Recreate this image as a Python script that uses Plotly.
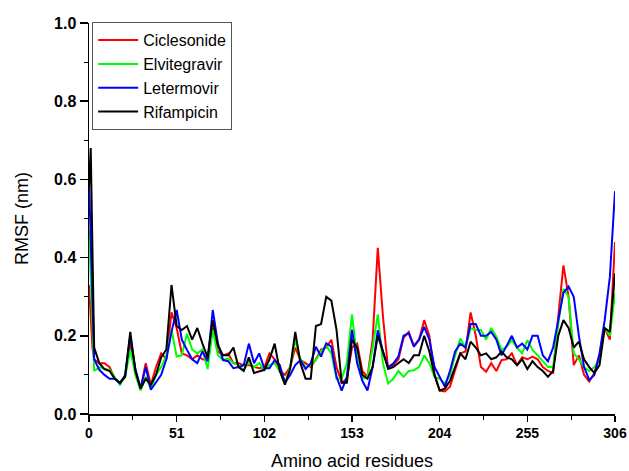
import plotly.graph_objects as go

residues = [0, 1, 2] + list(range(3, 307, 3))

ciclesonide = [0.33, 0.25, 0.17, 0.14, 0.13, 0.13, 0.12, 0.09, 0.08, 0.095,
               0.18, 0.11, 0.065, 0.13, 0.075, 0.12, 0.155, 0.14, 0.26, 0.22,
               0.155, 0.15, 0.14, 0.15, 0.14, 0.138, 0.22, 0.16, 0.15, 0.155,
               0.13, 0.13, 0.125, 0.125, 0.12, 0.117, 0.12, 0.155, 0.14, 0.11,
               0.10, 0.12, 0.17, 0.138, 0.13, 0.12, 0.14, 0.165, 0.17, 0.19,
               0.12, 0.08, 0.09, 0.17, 0.18, 0.11, 0.095, 0.19, 0.425, 0.25,
               0.115, 0.125, 0.14, 0.195, 0.21, 0.175, 0.19, 0.24, 0.2, 0.10,
               0.06, 0.058, 0.07, 0.11, 0.155, 0.16, 0.26, 0.2, 0.12, 0.108,
               0.13, 0.11, 0.138, 0.14, 0.155, 0.125, 0.145, 0.14, 0.147, 0.14,
               0.12, 0.11, 0.105, 0.25, 0.38, 0.30, 0.125, 0.15, 0.10, 0.083,
               0.105, 0.15, 0.22, 0.19, 0.44]

elvitegravir = [0.47, 0.35, 0.2, 0.11, 0.12, 0.115, 0.113, 0.095, 0.075, 0.095,
                0.165, 0.10, 0.06, 0.095, 0.065, 0.1, 0.12, 0.15, 0.215, 0.147,
                0.15, 0.205, 0.165, 0.155, 0.165, 0.115, 0.215, 0.15, 0.138, 0.142,
                0.13, 0.125, 0.112, 0.134, 0.12, 0.13, 0.112, 0.125, 0.13, 0.11,
                0.078, 0.12, 0.19, 0.14, 0.12, 0.125, 0.138, 0.16, 0.175, 0.155,
                0.09, 0.09, 0.13, 0.255, 0.14, 0.09, 0.095, 0.17, 0.255, 0.13,
                0.078, 0.09, 0.11, 0.095, 0.11, 0.112, 0.12, 0.15, 0.13, 0.095,
                0.09, 0.078, 0.1, 0.15, 0.193, 0.17, 0.22, 0.215, 0.215, 0.19,
                0.22, 0.198, 0.164, 0.172, 0.189, 0.17, 0.155, 0.189, 0.164, 0.15,
                0.135, 0.12, 0.12, 0.23, 0.32, 0.3, 0.155, 0.14, 0.12, 0.11,
                0.12, 0.138, 0.22, 0.2, 0.31]

letermovir = [0.6, 0.45, 0.25, 0.14, 0.113, 0.1, 0.09, 0.09, 0.078, 0.1,
              0.2, 0.115, 0.065, 0.12, 0.062, 0.08, 0.1, 0.14, 0.21, 0.266,
              0.19, 0.164, 0.14, 0.13, 0.16, 0.135, 0.266, 0.18, 0.138, 0.135,
              0.117, 0.12, 0.125, 0.18, 0.13, 0.155, 0.117, 0.117, 0.138, 0.125,
              0.08, 0.1, 0.125, 0.138, 0.115, 0.13, 0.172, 0.147, 0.181, 0.172,
              0.095, 0.06, 0.095, 0.215, 0.13, 0.085, 0.06, 0.12, 0.214, 0.16,
              0.12, 0.129, 0.147, 0.2, 0.206, 0.172, 0.19, 0.223, 0.19, 0.12,
              0.095, 0.07, 0.11, 0.16, 0.18, 0.17, 0.23, 0.23, 0.2, 0.2,
              0.21, 0.19, 0.15, 0.175, 0.2, 0.17, 0.18, 0.165, 0.2, 0.2,
              0.15, 0.135, 0.17, 0.24, 0.31, 0.326, 0.3, 0.2, 0.12, 0.087,
              0.1, 0.155, 0.24, 0.35, 0.57]

rifampicin = [0.58, 0.68, 0.42, 0.17, 0.13, 0.115, 0.11, 0.09, 0.08, 0.095,
              0.21, 0.11, 0.065, 0.09, 0.075, 0.10, 0.145, 0.165, 0.33, 0.225,
              0.215, 0.225, 0.19, 0.22, 0.18, 0.145, 0.24, 0.175, 0.15, 0.15,
              0.17, 0.12, 0.11, 0.145, 0.105, 0.11, 0.113, 0.14, 0.18, 0.11,
              0.075, 0.115, 0.21, 0.13, 0.09, 0.09, 0.225, 0.23, 0.30, 0.29,
              0.215, 0.08, 0.08, 0.19, 0.17, 0.10, 0.09, 0.12, 0.2, 0.16,
              0.115, 0.12, 0.13, 0.14, 0.13, 0.15, 0.15, 0.20, 0.16, 0.10,
              0.06, 0.065, 0.085, 0.12, 0.155, 0.14, 0.185, 0.17, 0.15, 0.155,
              0.14, 0.145, 0.16, 0.145, 0.14, 0.125, 0.14, 0.115, 0.135, 0.12,
              0.11, 0.095, 0.11, 0.2, 0.24, 0.22, 0.17, 0.185, 0.14, 0.12,
              0.105, 0.125, 0.22, 0.21, 0.36]

series = [
    ("Ciclesonide", ciclesonide, "#ff0000"),
    ("Elvitegravir", elvitegravir, "#00ff00"),
    ("Letermovir", letermovir, "#0000ff"),
    ("Rifampicin", rifampicin, "#000000"),
]

x_ticks = [0, 51, 102, 153, 204, 255, 306]
y_ticks = [0.0, 0.2, 0.4, 0.6, 0.8, 1.0]

fig = go.Figure()
for name, vals, color in series:
    fig.add_trace(go.Scatter(x=residues, y=vals, mode="lines", name=name,
                             line=dict(color=color, width=2)))

font_family = "Liberation Sans, Arial, sans-serif"
fig.update_layout(
    width=629, height=471,
    margin=dict(l=89, r=14, t=23, b=57, autoexpand=False),
    paper_bgcolor="white", plot_bgcolor="white",
    font=dict(family=font_family, color="black"),
    showlegend=True,
    legend=dict(x=0.006, y=1.002, xanchor="left", yanchor="top",
                bordercolor="#555555", borderwidth=1, bgcolor="white",
                font=dict(size=16, family=font_family),
                tracegroupgap=0, itemwidth=40),
)
fig.update_xaxes(
    range=[0, 306], tickvals=x_ticks, ticktext=[str(v) for v in x_ticks],
    automargin=False,
    showline=True, linecolor="black", linewidth=1.5, showgrid=False, zeroline=False,
    ticks="outside", ticklen=6, tickwidth=1.5, tickcolor="black",
    tickfont=dict(size=14, family=font_family, weight="bold"),
    minor=dict(tickvals=[25.5, 76.5, 127.5, 178.5, 229.5, 280.5], ticks="outside",
               ticklen=4, tickwidth=1.2, tickcolor="black"),
    title=dict(text="Amino acid residues", font=dict(size=18, family=font_family), standoff=14),
)
fig.update_yaxes(
    range=[0, 1.0], tickvals=y_ticks, ticktext=["%.1f" % v for v in y_ticks],
    automargin=False,
    showline=True, linecolor="black", linewidth=1.5, showgrid=False, zeroline=False,
    ticks="outside", ticklen=8, tickwidth=1.5, tickcolor="black",
    tickfont=dict(size=16, family=font_family, weight="bold"),
    minor=dict(tickvals=[0.1, 0.3, 0.5, 0.7, 0.9], ticks="outside",
               ticklen=4, tickwidth=1.2, tickcolor="black"),
    title=dict(text="RMSF (nm)", font=dict(size=18, family=font_family), standoff=20),
)

page_fix = ("document.body.style.margin='0';"
            "document.body.style.overflow='hidden';"
            "document.documentElement.style.overflow='hidden';")
fig.write_html("out.html", post_script=page_fix,
               config={"displayModeBar": False, "staticPlot": True})
